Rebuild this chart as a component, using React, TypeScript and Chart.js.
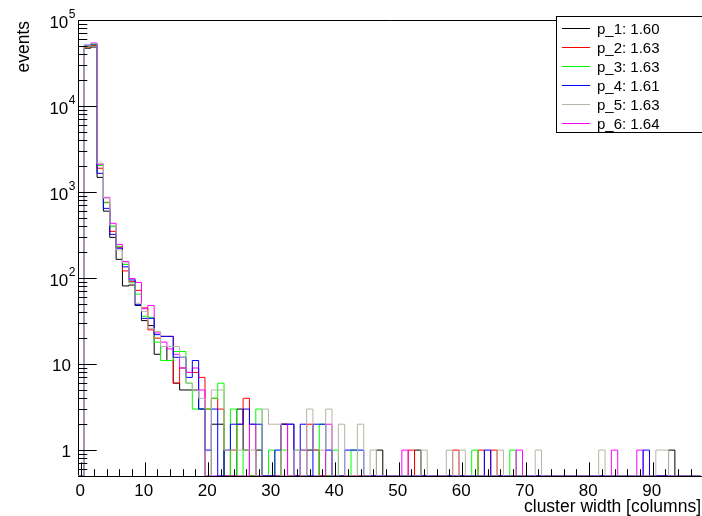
import React, { useEffect, useRef } from 'react';
import { Chart, registerables } from 'chart.js';

Chart.register(...registerables);

// ---------- data ----------
const seriesNames = ['p_1: 1.60', 'p_2: 1.63', 'p_3: 1.63', 'p_4: 1.61', 'p_5: 1.63', 'p_6: 1.64'];
const seriesColors = ['#000000', '#ff0000', '#00ff00', '#0000ff', '#bab2a8', '#ff00ff'];
// drawing order (lower = drawn later / on top)
const seriesOrder = [5, 4, 3, 1, 0, 2];

// bin contents, bins 0..97 (bin k covers k-0.5 .. k+0.5)
const p1 = [
  0, 47000, 48500, 1480, 600, 297, 165, 81, 83, 48,
  32, 28, 13, 16, 11, 6, 5, 5, 5, 3,
  0, 2, 2, 0, 0, 3, 1, 0, 1, 0,
  0, 0, 2, 0, 0, 0, 1, 1, 0, 0,
  0, 0, 0, 0, 0, 0, 0, 1, 0, 0,
  0, 0, 0, 1, 0, 0, 0, 0, 0, 0,
  0, 0, 0, 0, 0, 0, 0, 0, 0, 0,
  0, 0, 0, 0, 0, 0, 0, 0, 0, 0,
  0, 0, 0, 0, 0, 0, 0, 0, 0, 0,
  0, 0, 0, 1, 0, 0, 0, 0,
];
const p2 = [
  0, 48500, 50500, 1890, 760, 349, 228, 121, 91, 72,
  45, 25, 20, 21, 21, 6, 9, 8, 8, 7,
  3, 4, 3, 0, 1, 2, 4, 0, 0, 0,
  0, 0, 2, 0, 0, 0, 2, 1, 0, 0,
  0, 0, 0, 0, 0, 0, 0, 0, 0, 0,
  0, 0, 1, 0, 0, 0, 0, 0, 0, 1,
  0, 0, 0, 1, 0, 1, 0, 0, 0, 0,
  0, 0, 0, 0, 0, 0, 0, 0, 0, 0,
  0, 0, 0, 0, 0, 0, 0, 0, 0, 0,
  0, 0, 0, 0, 0, 0, 0, 0,
];
const p3 = [
  0, 49000, 51500, 2040, 750, 395, 234, 144, 89, 65,
  36, 35, 18, 11, 11, 14, 14, 6, 3, 3,
  3, 4, 6, 0, 3, 0, 1, 0, 3, 0,
  1, 0, 1, 2, 1, 1, 0, 0, 2, 0,
  1, 0, 0, 1, 0, 0, 0, 0, 0, 0,
  0, 0, 0, 0, 0, 0, 0, 0, 0, 0,
  0, 0, 1, 0, 0, 0, 0, 0, 1, 0,
  0, 0, 0, 0, 0, 0, 0, 0, 0, 0,
  0, 0, 0, 0, 0, 0, 0, 0, 0, 0,
  0, 0, 0, 0, 0, 0, 0, 0,
];
const p4 = [
  0, 51000, 52500, 1650, 646, 322, 222, 135, 95, 49,
  34, 34, 22, 21, 21, 12, 12, 7, 11, 3,
  1, 3, 0, 1, 2, 2, 3, 2, 2, 0,
  0, 1, 2, 2, 0, 2, 0, 2, 2, 1,
  0, 0, 1, 1, 1, 0, 0, 0, 0, 0,
  0, 0, 0, 0, 0, 0, 0, 0, 0, 0,
  0, 0, 0, 0, 1, 0, 0, 0, 0, 0,
  0, 0, 0, 0, 0, 0, 0, 0, 0, 0,
  0, 0, 0, 0, 0, 0, 0, 0, 0, 1,
  0, 0, 0, 0, 0, 0, 0, 0,
];
const p5 = [
  0, 51000, 53500, 2160, 850, 410, 212, 150, 88, 51,
  41, 26, 24, 16, 16, 16, 12, 6, 5, 4,
  0, 5, 5, 1, 1, 1, 1, 1, 0, 3,
  2, 2, 0, 0, 1, 0, 3, 1, 1, 3,
  0, 2, 0, 0, 2, 0, 1, 0, 0, 0,
  0, 0, 0, 0, 1, 0, 0, 0, 1, 0,
  1, 0, 0, 0, 0, 0, 1, 0, 0, 0,
  0, 0, 1, 0, 0, 0, 0, 0, 0, 0,
  0, 0, 1, 0, 0, 0, 0, 0, 0, 0,
  0, 1, 1, 0, 0, 0, 0, 0,
];
const p6 = [
  0, 50000, 54000, 2100, 867, 433, 246, 156, 99, 89,
  44, 48, 23, 18, 15, 13, 9, 8, 9, 5,
  0, 0, 0, 0, 0, 0, 0, 2, 0, 0,
  0, 0, 0, 2, 0, 1, 0, 0, 0, 2,
  0, 0, 0, 0, 0, 0, 0, 0, 0, 0,
  0, 1, 0, 0, 0, 0, 0, 0, 0, 0,
  0, 0, 0, 0, 0, 0, 0, 0, 0, 1,
  0, 0, 0, 0, 0, 0, 0, 0, 0, 0,
  0, 0, 0, 0, 1, 0, 0, 0, 1, 0,
  0, 0, 0, 0, 0, 0, 0, 0,
];
const seriesValues = [p1, p2, p3, p4, p5, p6];

const xTickLabels = ['0', '10', '20', '30', '40', '50', '60', '70', '80', '90'];
const yTickLabels = ['1', '10', '10^2', '10^3', '10^4', '10^5'];
const xTitle = 'cluster width [columns]';
const yTitle = 'events';

const X_MIN = -0.5;
const X_MAX = 97.77;
const Y_MIN = 0.5;
const Y_MAX = 1e5;

const FONT = '"Liberation Sans", Arial, Helvetica, sans-serif';

const rootPlugin = {
  id: 'rootStyle',
  beforeDraw(chart: any) {
    const ctx = chart.ctx;
    ctx.save();
    ctx.fillStyle = '#ffffff';
    ctx.fillRect(0, 0, chart.width, chart.height);
    ctx.restore();
  },
  beforeDatasetsDraw(chart: any) {
    const { ctx, chartArea: a } = chart;
    ctx.save();
    ctx.strokeStyle = '#000';
    ctx.lineWidth = 1;
    ctx.beginPath();
    ctx.moveTo(a.left + 0.5, a.bottom);
    ctx.lineTo(a.left + 0.5, a.top + 0.5);
    ctx.lineTo(a.right, a.top + 0.5);
    ctx.moveTo(a.left, a.bottom + 0.5);
    ctx.lineTo(a.right, a.bottom + 0.5);
    ctx.stroke();
    ctx.restore();
  },
  afterDatasetsDraw(chart: any) {
    const { ctx, chartArea: a, scales } = chart;
    const xs = scales.x;
    const ys = scales.y;
    ctx.save();
    ctx.strokeStyle = '#000';
    ctx.lineWidth = 1;
    ctx.beginPath();
    // x ticks
    for (let v = 0; v <= X_MAX; v += 2) {
      const px = Math.round(xs.getPixelForValue(v)) + 0.5;
      const len = v % 10 === 0 ? 13.7 : 6.8;
      ctx.moveTo(px, a.bottom);
      ctx.lineTo(px, a.bottom - len);
    }
    // y ticks
    for (let d = -1; d <= 5; d++) {
      for (let m = 1; m <= 9; m++) {
        const v = m * Math.pow(10, d);
        if (v < Y_MIN || v > Y_MAX * 1.0001) continue;
        const py = Math.round(ys.getPixelForValue(v)) + 0.5;
        const len = m === 1 ? 18.7 : 9.3;
        ctx.moveTo(a.left, py);
        ctx.lineTo(a.left + len, py);
      }
    }
    ctx.stroke();

    ctx.fillStyle = '#000';
    // x tick labels
    ctx.font = `17px ${FONT}`;
    ctx.textAlign = 'center';
    ctx.textBaseline = 'alphabetic';
    xTickLabels.forEach((lab) => {
      const px = xs.getPixelForValue(Number(lab));
      ctx.fillText(lab, px - 1, 495.5);
    });
    // y tick labels
    yTickLabels.forEach((lab, i) => {
      const py = ys.getPixelForValue(Math.pow(10, i));
      const parts = lab.split('^');
      if (parts.length === 1) {
        ctx.font = `17px ${FONT}`;
        ctx.textAlign = 'right';
        ctx.textBaseline = 'alphabetic';
        ctx.fillText(parts[0], 71, py + 6.5);
      } else {
        ctx.font = `12px ${FONT}`;
        ctx.textAlign = 'right';
        ctx.textBaseline = 'alphabetic';
        const ew = ctx.measureText(parts[1]).width;
        ctx.fillText(parts[1], 75.5, py - 2);
        ctx.font = `17px ${FONT}`;
        ctx.fillText(parts[0], 75.5 - ew - 0.5, py + 8);
      }
    });
    // axis titles
    ctx.font = `17.5px ${FONT}`;
    ctx.textAlign = 'right';
    ctx.textBaseline = 'alphabetic';
    ctx.fillText(xTitle, 701, 512);
    ctx.save();
    ctx.translate(29, 21);
    ctx.rotate(-Math.PI / 2);
    ctx.textAlign = 'right';
    ctx.fillText(yTitle, 0, 0);
    ctx.restore();
    ctx.restore();
  },
  afterDraw(chart: any) {
    const ctx = chart.ctx;
    ctx.save();
    const bx = 556.5, by = 16.5, bh = 116;
    ctx.fillStyle = '#fff';
    ctx.fillRect(bx, by, 200, bh);
    ctx.strokeStyle = '#000';
    ctx.lineWidth = 1;
    ctx.strokeRect(bx, by, 200, bh);
    ctx.font = `15px ${FONT}`;
    ctx.textAlign = 'left';
    ctx.textBaseline = 'middle';
    seriesNames.forEach((name, i) => {
      const y = Math.round(28.3 + i * 19) + 0.5;
      ctx.strokeStyle = seriesColors[i];
      ctx.beginPath();
      ctx.moveTo(562, y);
      ctx.lineTo(590, y);
      ctx.stroke();
      ctx.fillStyle = '#000';
      ctx.fillText(name, 597, y + 1);
    });
    ctx.restore();
  },
};

export default function App() {
  const ref = useRef<HTMLCanvasElement>(null);
  useEffect(() => {
    const canvas = ref.current;
    if (!canvas) return;
    const datasets = seriesValues.map((vals, i) => {
      const pts = vals.map((v, k) => ({ x: k - 0.5, y: v > 0 ? v : Y_MIN }));
      pts.push({ x: vals.length - 0.5, y: vals[vals.length - 1] > 0 ? vals[vals.length - 1] : Y_MIN });
      return {
        label: seriesNames[i],
        data: pts,
        borderColor: seriesColors[i],
        backgroundColor: seriesColors[i],
        borderWidth: 1,
        pointRadius: 0,
        stepped: true as const,
        fill: false,
        tension: 0,
        order: seriesOrder[i],
      };
    });
    const chart = new Chart(canvas, {
      type: 'line',
      data: { datasets },
      options: {
        animation: false,
        responsive: false,
        devicePixelRatio: 1,
        events: [],
        layout: { padding: { left: 78, top: 20, right: 0, bottom: 40 } },
        plugins: { legend: { display: false }, tooltip: { enabled: false } },
        scales: {
          x: { type: 'linear', display: false, min: X_MIN, max: X_MAX },
          y: { type: 'logarithmic', display: false, min: Y_MIN, max: Y_MAX },
        },
      },
      plugins: [rootPlugin],
    });
    return () => chart.destroy();
  }, []);
  return (
    <div style={{ position: 'fixed', left: 0, top: 0, width: 702, height: 516, background: '#fff' }}>
      <canvas ref={ref} width={702} height={516} style={{ display: 'block' }} />
    </div>
  );
}
